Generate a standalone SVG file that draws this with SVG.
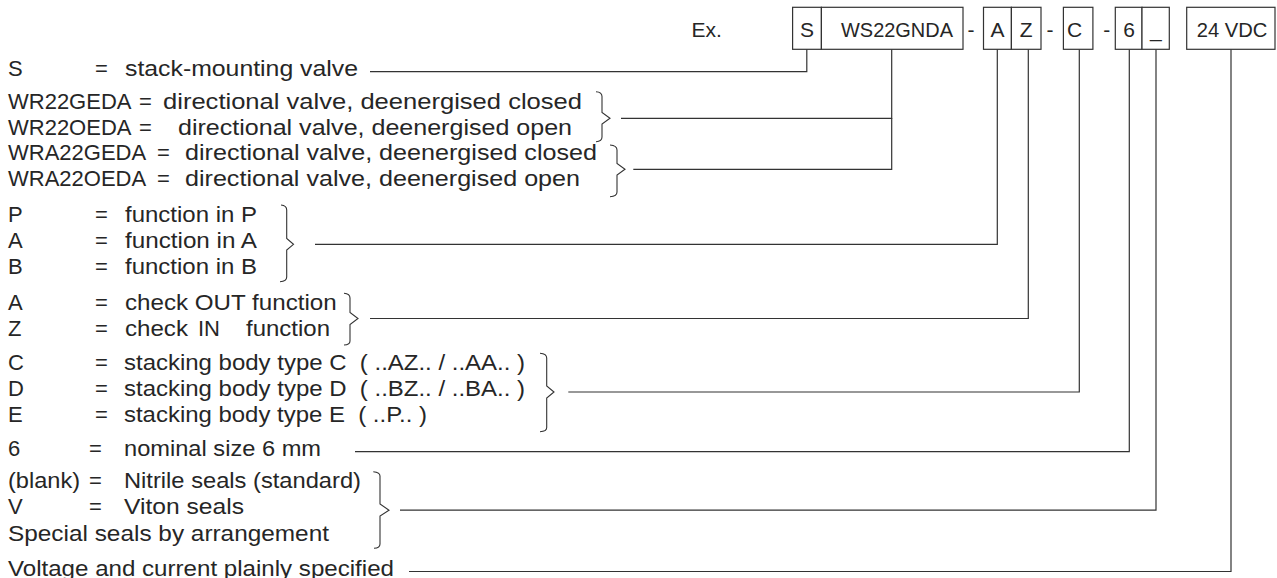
<svg xmlns="http://www.w3.org/2000/svg" width="1277" height="578" viewBox="0 0 1277 578">
<style>
text{font-family:"Liberation Sans",Arial,Helvetica,sans-serif;font-size:22px;fill:#262626;white-space:pre}
.bx text{font-size:21px}
.mid{text-anchor:middle}
rect{fill:#fff;stroke:#333;stroke-width:1.2}
.brace{fill:none;stroke:#333;stroke-width:1.1}
#connectors path{fill:none;stroke:#333;stroke-width:1.2}
</style>
<rect x="0" y="0" width="1277" height="578" style="fill:#fff;stroke:none"/>
<g id="connectors">
<path d="M370,71.7 H806.8 V49.3"/>
<path d="M621,118.3 H891.7 V49.3"/>
<path d="M633.3,169.3 H891.7 V118.3"/>
<path d="M315,244.3 H997.3 V49.3"/>
<path d="M370,318.5 H1028.3 V49.3"/>
<path d="M568.3,392 H1079.3 V49.3"/>
<path d="M355,451.7 H1129.3 V49.3"/>
<path d="M400,510.2 H1156 V49.3"/>
<path d="M409,571.5 H1231 V49.3"/>
</g>
<g id="code" class="bx">
<text x="691.5" y="37.3">Ex.</text>
<g id="box-s"><rect x="792.6" y="7.3" width="28.8" height="42"/><text class="mid" x="807" y="37.3">S</text></g>
<g id="box-type"><rect x="821.4" y="7.3" width="141.6" height="42"/><text x="841" y="37.3" textLength="112" lengthAdjust="spacingAndGlyphs">WS22GNDA</text></g>
<text class="mid" x="971" y="37.3">-</text>
<g id="box-func"><rect x="983.5" y="7.3" width="27.9" height="42"/><text class="mid" x="997.5" y="37.3">A</text></g>
<g id="box-check"><rect x="1011.4" y="7.3" width="29.6" height="42"/><text class="mid" x="1026.2" y="37.3">Z</text></g>
<text class="mid" x="1050" y="37.3">-</text>
<g id="box-body"><rect x="1063.4" y="7.3" width="29.5" height="42"/><text x="1067" y="37.3">C</text></g>
<text class="mid" x="1106.7" y="37.3">-</text>
<g id="box-size"><rect x="1115.3" y="7.3" width="26.7" height="42"/><text class="mid" x="1129" y="37.3">6</text></g>
<g id="box-seal"><rect x="1142" y="7.3" width="27.3" height="42"/><text x="1150" y="37.3">_</text></g>
<g id="box-voltage"><rect x="1186.7" y="7.3" width="88.3" height="42"/><text x="1196.7" y="37.3" textLength="70.6" lengthAdjust="spacingAndGlyphs">24 VDC</text></g>
</g>
<g id="legend-s">
<text x="8" y="75.7">S</text><text x="95" y="75.7">=</text>
<text x="125" y="75.7" textLength="233" lengthAdjust="spacingAndGlyphs">stack-mounting valve</text>
</g>
<g id="legend-wr">
<text x="8" y="109.3">WR22GEDA</text><text x="139" y="109.3">=</text>
<text x="163" y="109.3" textLength="419" lengthAdjust="spacingAndGlyphs">directional valve, deenergised closed</text>
<text x="8" y="135.3">WR22OEDA</text><text x="139" y="135.3">=</text>
<text x="178" y="135.3" textLength="394" lengthAdjust="spacingAndGlyphs">directional valve, deenergised open</text>
<path class="brace" d="M596,91.7 Q602,92 602,96.5 L602,112.5 L610,118.3 L602,124 L602,137 Q602,141.5 596,141.7"/>
</g>
<g id="legend-wra">
<text x="8" y="160.3">WRA22GEDA</text><text x="157" y="160.3">=</text>
<text x="185" y="160.3" textLength="412" lengthAdjust="spacingAndGlyphs">directional valve, deenergised closed</text>
<text x="8" y="186.3">WRA22OEDA</text><text x="157" y="186.3">=</text>
<text x="185" y="186.3" textLength="395" lengthAdjust="spacingAndGlyphs">directional valve, deenergised open</text>
<path class="brace" d="M610,145 Q617,145.5 617,150 L617,163.5 L625,169.3 L617,175 L617,192 Q617,196.5 610,196.7"/>
</g>
<g id="legend-function">
<text x="8" y="222.3">P</text><text x="95" y="222.3">=</text>
<text x="125" y="222.3" textLength="132" lengthAdjust="spacingAndGlyphs">function in P</text>
<text x="8" y="248.3">A</text><text x="95" y="248.3">=</text>
<text x="125" y="248.3" textLength="132" lengthAdjust="spacingAndGlyphs">function in A</text>
<text x="8" y="274.3">B</text><text x="95" y="274.3">=</text>
<text x="125" y="274.3" textLength="132" lengthAdjust="spacingAndGlyphs">function in B</text>
<path class="brace" d="M281,205 Q286.7,205.5 286.7,210 L286.7,238.5 L293.5,244.3 L286.7,250 L286.7,277 Q286.7,281.5 280,281.7"/>
</g>
<g id="legend-check">
<text x="8" y="309.5">A</text><text x="95" y="309.5">=</text>
<text x="125" y="309.5" textLength="211.7" lengthAdjust="spacingAndGlyphs">check OUT function</text>
<text x="8" y="335.5">Z</text><text x="95" y="335.5">=</text>
<text x="125" y="335.5" textLength="63" lengthAdjust="spacingAndGlyphs">check</text>
<text x="198" y="335.5">IN</text>
<text x="246" y="335.5" textLength="84" lengthAdjust="spacingAndGlyphs">function</text>
<path class="brace" d="M344,293.3 Q350,293.8 350,298 L350,312.5 L358,318.5 L350,324.5 L350,341 Q350,344.8 344,345"/>
</g>
<g id="legend-body">
<text x="8" y="370">C</text><text x="95" y="370">=</text>
<text x="124" y="370" textLength="401" lengthAdjust="spacingAndGlyphs">stacking body type C  ( ..AZ.. / ..AA.. )</text>
<text x="8" y="396">D</text><text x="95" y="396">=</text>
<text x="124" y="396" textLength="401" lengthAdjust="spacingAndGlyphs">stacking body type D  ( ..BZ.. / ..BA.. )</text>
<text x="8" y="422">E</text><text x="95" y="422">=</text>
<text x="124" y="422" textLength="303" lengthAdjust="spacingAndGlyphs">stacking body type E  ( ..P.. )</text>
<path class="brace" d="M540,353.3 Q546.7,353.8 546.7,358 L546.7,386 L554,392 L546.7,398 L546.7,427.5 Q546.7,431.5 540,431.7"/>
</g>
<g id="legend-size">
<text x="8" y="455.7">6</text><text x="89" y="455.7">=</text>
<text x="124" y="455.7" textLength="197" lengthAdjust="spacingAndGlyphs">nominal size 6 mm</text>
</g>
<g id="legend-seal">
<text x="8" y="487.5" textLength="72" lengthAdjust="spacingAndGlyphs">(blank)</text><text x="89" y="487.5">=</text>
<text x="124" y="487.5" textLength="237" lengthAdjust="spacingAndGlyphs">Nitrile seals (standard)</text>
<text x="8" y="514.2">V</text><text x="89" y="514.2">=</text>
<text x="124" y="514.2" textLength="120" lengthAdjust="spacingAndGlyphs">Viton seals</text>
<text x="8" y="540.9" textLength="321" lengthAdjust="spacingAndGlyphs">Special seals by arrangement</text>
<path class="brace" d="M373.3,471.7 Q380,472.2 380,476 L380,504 L389,510.2 L380,516 L380,544 Q380,548 374,548.3"/>
</g>
<g id="legend-voltage">
<text x="8" y="575.5" textLength="386" lengthAdjust="spacingAndGlyphs">Voltage and current plainly specified</text>
</g>
</svg>
